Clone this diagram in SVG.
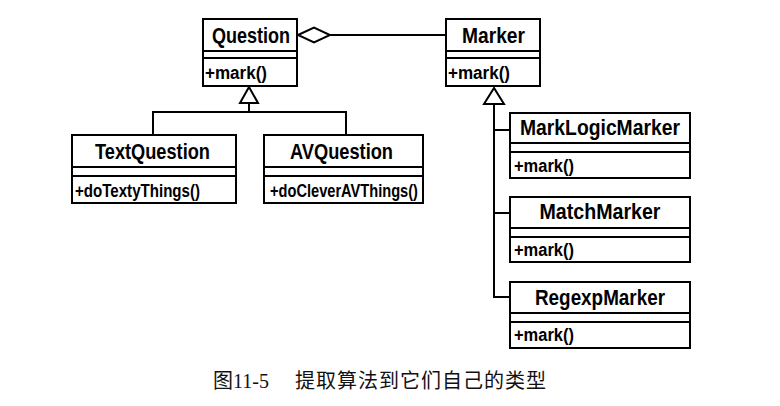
<svg xmlns="http://www.w3.org/2000/svg" width="780" height="406" viewBox="0 0 780 406">
<style>
.box{fill:#fff;stroke:#000;stroke-width:2}
.ln{fill:none;stroke:#000;stroke-width:2}
.t{font-family:"Liberation Sans",Arial,sans-serif;font-weight:bold;font-size:22px;text-anchor:middle;fill:#000}
.m{font-family:"Liberation Sans",Arial,sans-serif;font-weight:bold;font-size:18px;fill:#000}
.cap{font-family:"Liberation Serif","Noto Sans CJK SC",serif;font-size:20px;fill:#111}
</style>
<g id="connectors">
<polygon class="ln" points="298,35 314,27.5 330,35 314,42.5"/>
<line class="ln" x1="330" y1="35" x2="446" y2="35"/>
<polygon class="ln" points="249,87 240,103 258,103"/>
<polyline class="ln" points="249,103 249,112"/>
<polyline class="ln" points="153,135 153,112 346,112 346,135"/>
<polygon class="ln" points="494,88 484,104 504,104"/>
<polyline class="ln" points="494,104 494,297 510,297"/>
<line class="ln" x1="494" y1="130" x2="510" y2="130"/>
<line class="ln" x1="494" y1="213" x2="510" y2="213"/>
</g>
<g id="Question">
<rect class="box" x="203" y="19" width="94" height="67"/>
<path class="ln" d="M203 51H297M203 58H297"/>
<text class="t" x="251" y="43" textLength="78" lengthAdjust="spacingAndGlyphs">Question</text>
<text class="m" x="205" y="79" textLength="62" lengthAdjust="spacingAndGlyphs">+mark()</text>
</g>
<g id="Marker">
<rect class="box" x="446" y="19" width="94" height="67"/>
<path class="ln" d="M446 51H540M446 58H540"/>
<text class="t" x="493.5" y="43" textLength="63" lengthAdjust="spacingAndGlyphs">Marker</text>
<text class="m" x="448" y="79" textLength="62" lengthAdjust="spacingAndGlyphs">+mark()</text>
</g>
<g id="TextQuestion">
<rect class="box" x="72" y="135" width="164" height="68"/>
<path class="ln" d="M72 167H236M72 176H236"/>
<text class="t" x="152.5" y="159" textLength="115" lengthAdjust="spacingAndGlyphs">TextQuestion</text>
<text class="m" x="75" y="197" textLength="125" lengthAdjust="spacingAndGlyphs">+doTextyThings()</text>
</g>
<g id="AVQuestion">
<rect class="box" x="264" y="135" width="159" height="68"/>
<path class="ln" d="M264 167H423M264 176H423"/>
<text class="t" x="341.5" y="159" textLength="103" lengthAdjust="spacingAndGlyphs">AVQuestion</text>
<text class="m" x="270" y="197" textLength="148" lengthAdjust="spacingAndGlyphs">+doCleverAVThings()</text>
</g>
<g id="MarkLogicMarker">
<rect class="box" x="510" y="113" width="180" height="65"/>
<path class="ln" d="M510 143H690M510 152H690"/>
<text class="t" x="600" y="135" textLength="160" lengthAdjust="spacingAndGlyphs">MarkLogicMarker</text>
<text class="m" x="514" y="172" textLength="60" lengthAdjust="spacingAndGlyphs">+mark()</text>
</g>
<g id="MatchMarker">
<rect class="box" x="510" y="197" width="180" height="65"/>
<path class="ln" d="M510 228H690M510 237H690"/>
<text class="t" x="600" y="219" textLength="121" lengthAdjust="spacingAndGlyphs">MatchMarker</text>
<text class="m" x="514" y="256" textLength="60" lengthAdjust="spacingAndGlyphs">+mark()</text>
</g>
<g id="RegexpMarker">
<rect class="box" x="510" y="282" width="180" height="66"/>
<path class="ln" d="M510 313H690M510 322H690"/>
<text class="t" x="600" y="305" textLength="130" lengthAdjust="spacingAndGlyphs">RegexpMarker</text>
<text class="m" x="514" y="341" textLength="60" lengthAdjust="spacingAndGlyphs">+mark()</text>
</g>
<text class="cap" x="213" y="388">图11-5<tspan x="295" letter-spacing="1">提取算法到它们自己的类型</tspan></text>
</svg>
